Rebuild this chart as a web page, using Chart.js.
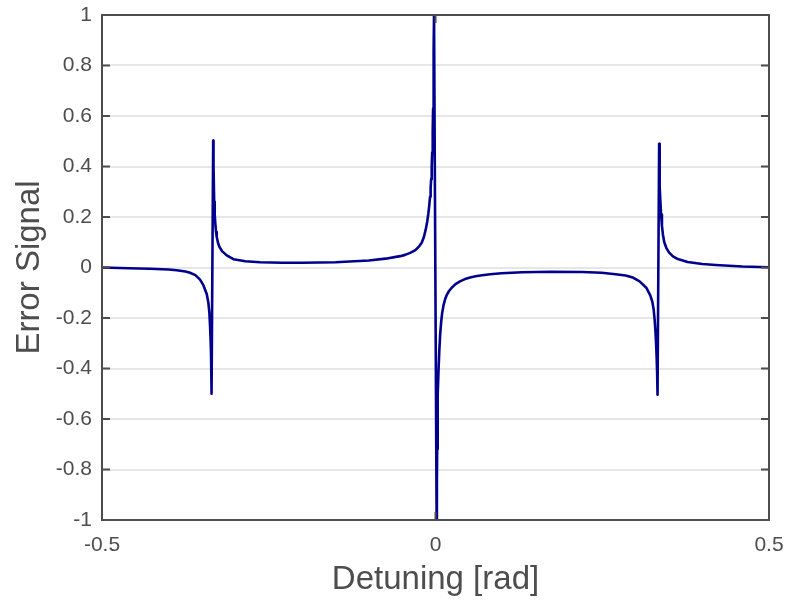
<!DOCTYPE html>
<html>
<head>
<meta charset="utf-8">
<script src="https://cdn.jsdelivr.net/npm/chart.js@4"></script>
<style>
  html, body { margin: 0; padding: 0; background: #fff; }
  #wrap { width: 789px; height: 603px; }
</style>
</head>
<body>
<div id="wrap"><canvas id="myChart" width="789" height="603"></canvas></div>
<script>
// detuning (rad) and PDH error signal, read point by point
const detuning = [
  -0.500, -0.460, -0.428, -0.400, -0.388, -0.375, -0.368, -0.360, -0.353, -0.348,
  -0.343, -0.3405, -0.3390, -0.3380, -0.3372, -0.3365, -0.3360, -0.3355,
  -0.3333, -0.3328, -0.3318, -0.3310, -0.3300, -0.3290, -0.3280, -0.3260, -0.3240, -0.3200,
  -0.3130, -0.3030, -0.2850, -0.2630, -0.2300, -0.2000, -0.1500, -0.1000, -0.0750,
  -0.0530, -0.0457, -0.0380, -0.0307, -0.0250, -0.0207, -0.0175, -0.0147, -0.0125, -0.0108,
  -0.0094, -0.0082, -0.0073, -0.0065, -0.0057, -0.0050, -0.0042, -0.0036, -0.0030, -0.0026,
  -0.0022,
  0.0017, 0.0021, 0.0025, 0.0030, 0.0036, 0.0045, 0.0057, 0.0070, 0.0085,
  0.0100, 0.0120, 0.0145, 0.0170, 0.0200, 0.0243, 0.0300, 0.0367, 0.0442, 0.0520,
  0.0600, 0.0700, 0.0820, 0.0990, 0.1300, 0.1740, 0.2200, 0.2490, 0.2700, 0.2850,
  0.2960, 0.3060, 0.3160, 0.3220, 0.3250, 0.3270, 0.3285, 0.3297, 0.3307, 0.3316,
  0.3323, 0.3329,
  0.3353, 0.3358, 0.3364, 0.3372, 0.3382, 0.3395, 0.3410, 0.3430, 0.3460, 0.3500,
  0.3560, 0.3620, 0.3780, 0.4000, 0.4200, 0.4600, 0.5000
];
const errorSignal = [
  0.000, -0.003, -0.005, -0.008, -0.011, -0.016, -0.021, -0.030, -0.048, -0.070,
  -0.105, -0.140, -0.180, -0.230, -0.285, -0.345, -0.420, -0.500,
  0.503, 0.400, 0.260, 0.210, 0.170, 0.140, 0.122, 0.097, 0.082, 0.065,
  0.048, 0.033, 0.025, 0.021, 0.019, 0.019, 0.021, 0.028, 0.035,
  0.045, 0.050, 0.058, 0.068, 0.082, 0.098, 0.120, 0.150, 0.180, 0.212,
  0.245, 0.280, 0.315, 0.350, 0.400, 0.455, 0.540, 0.630, 0.750, 0.860,
  1.000,
  -1.000, -0.840, -0.720, -0.605, -0.505, -0.410, -0.330, -0.265, -0.215,
  -0.180, -0.150, -0.125, -0.108, -0.094, -0.080, -0.066, -0.055, -0.046, -0.040,
  -0.035, -0.031, -0.027, -0.023, -0.019, -0.017, -0.018, -0.021, -0.027, -0.032,
  -0.040, -0.055, -0.080, -0.110, -0.135, -0.165, -0.205, -0.250, -0.300, -0.360,
  -0.420, -0.504,
  0.490, 0.400, 0.320, 0.260, 0.210, 0.165, 0.130, 0.100, 0.078, 0.060,
  0.044, 0.035, 0.022, 0.014, 0.010, 0.004, 0.001
];
const xTicks = [-0.5, 0, 0.5];
const yTicks = [-1, -0.8, -0.6, -0.4, -0.2, 0, 0.2, 0.4, 0.6, 0.8, 1];

const axisColor = '#4d4d4d';
const points = detuning.map((x, i) => ({ x: x, y: errorSignal[i] }));

// box around the plot area with short inward tick marks on all four sides
const boxFrame = {
  id: 'boxFrame',
  afterDatasetsDraw(chart) {
    const { ctx, chartArea: a, scales } = chart;
    const len = 8;
    ctx.save();
    ctx.strokeStyle = axisColor;
    ctx.lineWidth = 2;
    ctx.beginPath();
    scales.y.ticks.forEach(t => {
      const py = scales.y.getPixelForValue(t.value);
      ctx.moveTo(a.left, py); ctx.lineTo(a.left + len, py);
      ctx.moveTo(a.right, py); ctx.lineTo(a.right - len, py);
    });
    scales.x.ticks.forEach(t => {
      const px = scales.x.getPixelForValue(t.value);
      ctx.moveTo(px, a.bottom); ctx.lineTo(px, a.bottom - len);
      ctx.moveTo(px, a.top); ctx.lineTo(px, a.top + len);
    });
    ctx.stroke();
    ctx.strokeRect(a.left, a.top, a.right - a.left, a.bottom - a.top);
    ctx.restore();
  }
};

// fixed axis boxes; edge labels may overhang without shrinking the plot
function fixBox(s, w, h) {
  if (w) s.width = w;
  if (h) s.height = h;
  s.paddingTop = 0; s.paddingBottom = 0;
  s.paddingLeft = 0; s.paddingRight = 0;
}

const ctx = document.getElementById('myChart');
new Chart(ctx, {
  type: 'scatter',
  data: {
    datasets: [{
      data: points,
      showLine: true,
      borderColor: '#00008c',
      borderWidth: 2.6,
      borderJoinStyle: 'round',
      pointRadius: 0,
      tension: 0
    }]
  },
  options: {
    responsive: false,
    animation: false,
    events: [],
    layout: { padding: { left: 0, right: 20, top: 15, bottom: 0 } },
    plugins: {
      legend: { display: false },
      tooltip: { enabled: false }
    },
    scales: {
      x: {
        type: 'linear',
        min: -0.5,
        max: 0.5,
        afterBuildTicks: s => { s.ticks = xTicks.map(v => ({ value: v })); },
        afterFit: s => fixBox(s, 0, 83),
        grid: { display: false, drawTicks: false },
        border: { display: false },
        ticks: {
          color: axisColor,
          padding: 13,
          font: { family: 'Liberation Sans', size: 21 },
          callback: v => String(v)
        },
        title: {
          display: true,
          text: 'Detuning [rad]',
          color: axisColor,
          font: { family: 'Liberation Sans', size: 33 },
          padding: { top: 0, bottom: 3 }
        }
      },
      y: {
        min: -1,
        max: 1,
        afterBuildTicks: s => { s.ticks = yTicks.map(v => ({ value: v })); },
        afterFit: s => fixBox(s, 102, 0),
        grid: {
          drawTicks: false,
          lineWidth: 2,
          color: c => (c.tick && Math.abs(c.tick.value) === 1) ? 'rgba(0,0,0,0)' : '#e6e6e6'
        },
        border: { display: false },
        ticks: {
          color: axisColor,
          padding: 10,
          font: { family: 'Liberation Sans', size: 21 },
          callback: v => String(v)
        },
        title: {
          display: true,
          text: 'Error Signal',
          color: axisColor,
          font: { family: 'Liberation Sans', size: 33 },
          padding: { top: 10, bottom: 0 }
        }
      }
    }
  },
  plugins: [boxFrame]
});
</script>
</body>
</html>
